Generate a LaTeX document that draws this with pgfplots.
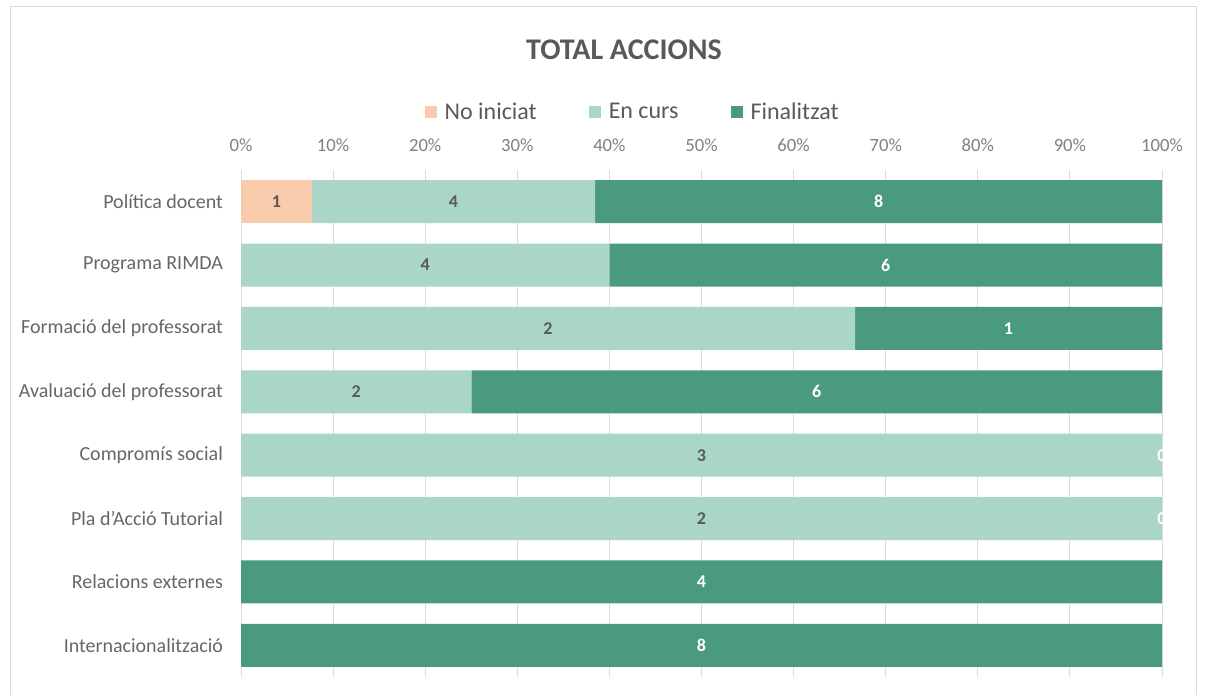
\documentclass[border=0pt]{standalone}
\usepackage{pgfplots}
\pgfplotsset{compat=1.18}
\usepackage{fontspec}
\setmainfont{Carlito}
\definecolor{noini}{HTML}{F8CBAD}
\definecolor{encurs}{HTML}{A9D6C6}
\definecolor{final}{HTML}{4A9B7D}
\definecolor{txt}{HTML}{595959}
\definecolor{cattxt}{HTML}{666666}
\definecolor{ticktxt}{HTML}{808080}
\definecolor{gridc}{HTML}{E2DADA}
\begin{document}
\begin{tikzpicture}
% 1px of the reference = 0.75pt
\path[use as bounding box] (0pt,0pt) rectangle (904.5pt,521.25pt);
\draw[color=black!15, line width=0.75pt] (7.5pt,0pt) -- (7.5pt,516pt) -- (897pt,516pt) -- (897pt,0pt);
\node[font=\fontsize{22.5}{25}\selectfont\bfseries, text=txt] at (468pt,483.75pt) {TOTAL ACCIONS};
\begin{axis}[
  at={(180.75pt,13.5pt)}, anchor=south west,
  scale only axis, width=690.75pt, height=380.25pt,
  xbar stacked, bar width=0.68,
  xmin=0, xmax=100, ymin=-0.5, ymax=7.5,
  clip=false,
  axis line style={draw=none},
  xtick={0,10,...,100},
  xticklabel pos=upper,
  xticklabel={\pgfmathprintnumber{\tick}\%},
  xticklabel style={font=\fontsize{14}{16}\selectfont, text=ticktxt, yshift=10pt},
  /pgf/number format/assume math mode=true,
  major tick length=0pt,
  xmajorgrids, grid style={gridc, line width=0.75pt},
  ytick={0,...,7},
  yticklabels={Internacionalització, Relacions externes, Pla d'Acció Tutorial, Compromís social, Avaluació del professorat, Formació del professorat, Programa RIMDA, Política docent},
  yticklabel style={font=\fontsize{15}{17}\selectfont, text=cattxt, xshift=-10pt},
  point meta=explicit symbolic,
  nodes near coords,
  every node near coord/.append style={anchor=center,
    font=\fontsize{13.5}{15}\selectfont\bfseries},
  legend columns=3,
  legend style={draw=none, fill=none, at={(0.4256,1)}, anchor=center, yshift=43.5pt,
    font=\fontsize{18}{20}\selectfont, text=txt,
    /tikz/every even column/.append style={column sep=37pt}},
  legend image code/.code={\fill (0pt,-4.5pt) rectangle (9pt,4.5pt); \path (13pt,0pt);},
]
\addplot[fill=noini, draw=none, every node near coord/.append style={text=txt}] coordinates {
  (7.692,7) [1] (0,6) [] (0,5) [] (0,4) [] (0,3) [] (0,2) [] (0,1) [] (0,0) []};
\addplot[fill=encurs, draw=none, every node near coord/.append style={text=txt}] coordinates {
  (30.769,7) [4] (40,6) [4] (66.667,5) [2] (25,4) [2] (100,3) [3] (100,2) [2] (0,1) [] (0,0) []};
\addplot[fill=final, draw=none, every node near coord/.append style={text=white}] coordinates {
  (61.538,7) [8] (60,6) [6] (33.333,5) [1] (75,4) [6] (0,3) [] (0,2) [] (100,1) [4] (100,0) [8]};
\legend{No iniciat, En curs, Finalitzat}
% zero-count labels of "Finalitzat", at the right end of their rows
\addplot[forget plot, stack plots=false, draw=none, fill=none,
  every node near coord/.append style={text=white, xshift=345.375pt}] coordinates {(100,3) [0] (100,2) [0]};
\end{axis}
\end{tikzpicture}
\end{document}
